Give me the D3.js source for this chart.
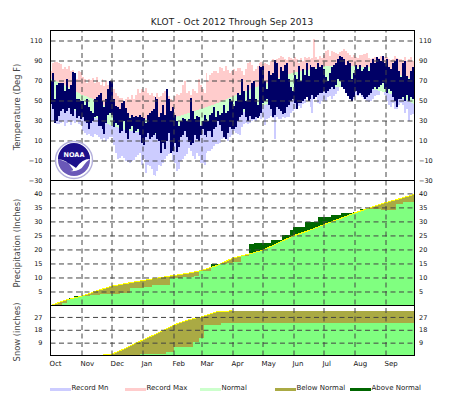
<!DOCTYPE html>
<html>
<head>
<meta charset="utf-8">
<script src="https://cdn.jsdelivr.net/npm/d3@7"></script>
<style>
  html, body { margin: 0; background: #fff; }
  svg { display: block; font-family: "DejaVu Sans", sans-serif; }
  .grid line { stroke: #444; stroke-dasharray: 5 3.5; }
  .grid path, .labels path, .labels line { display: none; }
  .labels text { font-family: "DejaVu Sans", sans-serif; font-size: 6.5px; fill: #111; }
  .title { font-size: 9px; fill: #222; letter-spacing: .1px; }
  .ylab { font-size: 8.4px; fill: #444; }
  .leg { font-size: 7px; fill: #222; }
</style>
</head>
<body>
<div id="chart"></div>
<script>
/* KLOT climate summary, Oct 2012 - Sep 2013 */

const months = ["Oct", "Nov", "Dec", "Jan", "Feb", "Mar", "Apr", "May", "Jun", "Jul", "Aug", "Sep"];
const monthDays = [0, 31, 61, 92, 123, 151, 182, 212, 243, 273, 304, 335];
const yearDays = 365;

const tempTicks = [-30, -10, 10, 30, 50, 70, 90, 110];
const precipTicks = [5, 10, 15, 20, 25, 30, 35, 40];
const snowTicks = [9, 18, 27];

const recMax = [
  80,88,89,89,88,87,82,84,82,85,80,81,78,72,80,79,
  74,72,68,72,71,73,68,74,69,66,72,65,70,66,68,
  70,62,58,55,53,53,50,52,54,52,56,52,56,62,58,62,
  60,63,58,56,58,55,52,58,54,55,58,60,52,55,52,50,
  55,57,56,58,66,70,58,60,56,62,60,58,72,66,
  62,58,78,70,76,78,80,80,78,84,83,80,85,81,78,80,
  82,80,83,83,80,76,82,88,89,86,80,82,85,88,89,
  87,88,87,86,90,92,91,92,93,95,94,92,91,94,93,92,
  94,92,88,93,90,94,93,94,92,93,112,94,92,95,93,
  96,100,101,95,100,99,98,97,99,100,102,100,98,96,94,96,
  94,93,96,96,97,97,98,93,92,93,94,91,93,95,92,94,
  94,92,91,92,95,93,92,92,90,94,90,92,94,90,88
];
const recMin = [
  30,30,28,27,27,28,30,25,28,30,26,30,28,30,27,26,
  20,18,16,17,15,14,17,16,14,12,10,13,10,12,14,
  14,6,-2,-8,-7,-5,-7,-10,-11,-12,-10,-9,-6,-4,-2,-14,
  -8,-22,-14,-15,-18,-24,-25,-20,-14,-15,-12,-8,-5,-3,-2,-10,
  -12,-20,-18,-10,-8,-5,-3,3,0,-5,-8,-2,-5,-12,
  -12,-14,-2,0,0,2,5,7,7,8,12,13,13,10,14,16,
  20,18,17,16,24,27,28,27,28,30,31,30,33,34,32,
  34,26,32,33,35,33,12,34,32,32,34,33,34,34,38,40,
  42,44,45,43,47,48,55,53,44,38,52,54,48,47,50,
  52,50,54,55,52,55,57,60,64,64,63,62,60,55,55,52,
  56,55,57,54,52,52,50,49,50,52,55,56,56,60,60,56,
  50,46,44,48,42,42,46,48,46,38,42,30,36,37,36
];
const obsHigh = [
  70,78,52,66,68,68,68,60,72,62,66,79,78,52,52,50,
  50,46,52,44,40,38,52,54,56,58,50,44,52,62,70,
  70,52,45,44,42,48,50,43,38,33,36,34,35,34,36,34,
  33,28,36,38,40,42,54,52,34,38,46,36,62,52,40,44,
  36,30,25,30,33,32,30,32,53,40,32,35,34,25,
  30,36,32,30,36,38,44,34,40,36,38,46,38,40,52,50,
  45,50,58,56,72,60,50,66,52,68,70,52,46,85,84,
  85,70,62,80,76,78,91,88,72,84,80,86,88,72,64,60,
  76,72,85,70,82,76,88,75,86,84,84,82,88,84,86,
  82,74,70,78,84,86,88,92,95,94,92,86,90,88,72,78,
  86,82,86,80,82,84,86,80,88,92,88,94,92,90,95,88,
  92,84,82,88,90,92,80,74,88,90,75,72,80,84,85
];
const obsLow = [
  47,42,28,30,35,40,42,38,40,43,37,35,42,33,35,32,
  34,30,28,22,28,30,34,35,25,25,22,17,28,36,38,
  36,24,28,26,18,20,30,18,12,22,25,18,20,22,16,8,
  6,14,18,12,14,16,18,12,10,-2,8,2,10,18,-2,0,
  8,-1,4,14,16,20,14,9,6,8,16,12,10,16,
  22,16,14,20,20,14,22,24,30,26,20,14,12,18,24,22,
  22,24,30,34,36,42,34,30,35,32,32,34,33,35,38,
  48,50,52,46,42,34,36,44,42,40,37,38,44,46,50,52,
  48,42,48,48,50,52,54,50,52,56,52,54,56,58,58,
  60,58,60,62,64,62,66,72,70,64,62,58,55,52,50,54,
  60,56,58,56,54,52,54,56,58,62,64,62,64,66,68,62,
  58,62,60,54,50,44,52,52,54,50,56,50,54,52,50
];

// normals, read at the start and middle of each month
const normalDays = [0,15,31,46,61,76,92,107,123,137,151,166,182,197,212,227,243,258,273,288,304,319,335,350,365];
const normalHigh = [72,65,56,50,40,34,32,30,33,37,42,47,54,60,66,72,78,81,84,85,84,83,79,75,70];
const normalLow = [50,44,37,32,25,20,18,16,18,21,26,29,35,40,45,50,56,60,63,64,64,62,58,53,46];
const normalPrecip = [0,1.9,3.3,5.2,6.9,7.9,8.9,9.8,10.7,11.5,12.5,14.2,16.9,18.2,19.7,22.2,24.9,26.7,28.8,30.8,33,34.8,36.7,38.2,39.8];
const normalSnow = [0,0,0,0,0.8,5.4,10.8,15.5,21.3,24.8,27.1,30.6,31.3,31.3,31.3,31.3,31.3,31.3,31.3,31.3,31.3,31.3,31.3,31.3,31.3];

// observed accumulations: day of change, value from that day on
const precipDays = [0,11,16,18,23,30,39,49,69,79,93,101,119,131,143,148,160,168,176,182,190,198,203,220,231,239,242,254,267,280,290,302,309,317,330,345,352];
const precipObs = [0,1,2,2.5,3.3,3.4,3.9,4.2,4.5,6.1,6.5,7.4,9.8,10,10.7,12.3,14.7,14.8,15,15.6,17.5,21.8,22.4,23.2,25,27,28,29.8,31.7,32.2,33,33.2,34.4,34.6,34,36.3,37];
const snowDays = [0,89,115,123,142,148,153,170];
const snowObs = [0,1.1,2.4,5.9,9.6,12.6,21.3,22.9];

const width = 464, height = 395;
const left = 50.5, right = 414.5;
const panels = { temp: [30.5, 180.5], precip: [180.5, 305.5], snow: [305.5, 355.5] };

const svg = d3.select("#chart").append("svg")
    .attr("width", width)
    .attr("height", height)
    .attr("viewBox", [0, 0, width, height]);

svg.append("clipPath").attr("id", "plot")
  .append("rect").attr("x", left).attr("y", 30).attr("width", right - left).attr("height", 326);

const x = d3.scaleLinear().domain([0, yearDays]).range([left, left + yearDays]);
const yTemp = d3.scaleLinear().domain([120, -30]).range(panels.temp);
const yPrecip = d3.scaleLinear().domain([44.6, 0]).range(panels.precip);
const ySnow = d3.scaleLinear().domain([35, 0]).range(panels.snow);

const marks = svg.append("g").attr("clip-path", "url(#plot)");

// evenly spaced daily series, last value held to the end of the year
const evenDays = arr => arr.map((_, i) => i * yearDays / arr.length).concat(yearDays);
const hold = arr => arr.concat(arr[arr.length - 1]);

function band(days, top, bottom, y, fill, curve) {
  const area = d3.area()
      .curve(curve)
      .x((_, i) => x(days[i]))
      .y1((_, i) => y(top[i]))
      .y0((_, i) => typeof bottom === "number" ? y(bottom) : y(bottom[i]));
  return marks.append("path")
      .datum(days)
      .attr("d", area)
      .attr("fill", fill)
      .attr("shape-rendering", "crispEdges");
}

// Temperature panel, painted back to front
const maxDays = evenDays(recMax), minDays = evenDays(recMin), obsDays = evenDays(obsHigh);
band(maxDays, hold(recMax), -30, yTemp, "#ffcccc", d3.curveStepAfter);
band(normalDays, normalHigh, -30, yTemp, "#ccccff", d3.curveLinear);
band(minDays, hold(recMin), -30, yTemp, "#ffffff", d3.curveStepAfter);
band(normalDays, normalHigh, normalLow, yTemp, "#ccffcc", d3.curveLinear);
band(obsDays, hold(obsHigh), hold(obsLow), yTemp, "#000066", d3.curveStepAfter);

// Accumulation panels: above normal, below normal, then the green under both
function accumulation(id, days, obs, normal, y) {
  const steps = days.concat(yearDays), obsHeld = hold(obs);
  band(steps, obsHeld, 0, y, "#006600", d3.curveStepAfter);
  band(normalDays, normal, 0, y, "#aaaa44", d3.curveLinear);

  const under = d3.area()
      .x((_, i) => x(normalDays[i]))
      .y1((_, i) => y(normal[i]))
      .y0(y(0));
  svg.append("clipPath").attr("id", id)
    .append("path").datum(normalDays).attr("d", under);
  band(steps, obsHeld, 0, y, "#80ff80", d3.curveStepAfter).attr("clip-path", `url(#${id})`);

  // yellow normal line only where the normal is still rising
  marks.append("path")
      .datum(normalDays)
      .attr("d", d3.line()
        .defined((_, i) => normal[i] !== normal[i + 1] || normal[i] !== normal[i - 1])
        .x((_, i) => x(normalDays[i]))
        .y((_, i) => y(normal[i])))
      .attr("fill", "none")
      .attr("stroke", "#ffff00")
      .attr("stroke-width", 1)
      .attr("shape-rendering", "crispEdges");
}
accumulation("under-precip", precipDays, precipObs, normalPrecip, yPrecip);
accumulation("under-snow", snowDays, snowObs, normalSnow, ySnow);

// dashed grid on top of the marks
svg.append("g")
    .attr("class", "grid")
    .attr("transform", `translate(0,${panels.snow[1]})`)
    .call(d3.axisBottom(x).tickValues(monthDays.slice(1)).tickSize(-325).tickFormat(""));

function yAxis(y, ticks, gridTicks) {
  svg.append("g")
      .attr("class", "grid")
      .attr("transform", `translate(${left},0)`)
      .call(d3.axisLeft(y).tickValues(gridTicks).tickSize(left - right).tickFormat(""));
  svg.append("g")
      .attr("class", "labels")
      .attr("transform", `translate(${left},0)`)
      .call(d3.axisLeft(y).tickValues(ticks).tickSize(0).tickPadding(8));
  svg.append("g")
      .attr("class", "labels")
      .attr("transform", `translate(${right},0)`)
      .call(d3.axisRight(y).tickValues(ticks).tickSize(0).tickPadding(4.5));
}
yAxis(yTemp, tempTicks, tempTicks.slice(1));
yAxis(yPrecip, precipTicks, precipTicks);
yAxis(ySnow, snowTicks, snowTicks);

// frame
[panels.temp[0], panels.temp[1], panels.precip[1], panels.snow[1]].forEach(py => {
  svg.append("line").attr("x1", left).attr("x2", right).attr("y1", py).attr("y2", py).attr("stroke", "#000");
});
[left, right].forEach(px => {
  svg.append("line").attr("x1", px).attr("x2", px).attr("y1", 30).attr("y2", 356).attr("stroke", "#000");
});

// month labels
const monthAxis = svg.append("g")
    .attr("class", "labels")
    .attr("transform", `translate(-1.5,${panels.snow[1]})`)
    .call(d3.axisBottom(x).tickValues(monthDays).tickSize(0).tickPadding(6)
      .tickFormat((_, i) => months[i]));
monthAxis.selectAll("text").attr("text-anchor", "start").style("font-size", "7px");

// titles
svg.append("text").attr("class", "title").attr("x", 232).attr("y", 25).attr("text-anchor", "middle")
    .text("KLOT - Oct 2012 Through Sep 2013");
[["Temperature (Deg F)", 107], ["Precipitation (Inches)", 243], ["Snow (inches)", 332]].forEach(([label, cy]) => {
  svg.append("text").attr("class", "ylab").attr("text-anchor", "middle")
      .attr("transform", `translate(19.5,${cy}) rotate(-90)`)
      .text(label);
});

// legend
const legendItems = ["Record Mn", "Record Max", "Normal", "Below Normal", "Above Normal"];
const legendColors = ["#ccccff", "#ffcccc", "#ccffcc", "#aaaa44", "#006600"];
const legendX = d3.scalePoint().domain(legendItems).range([50, 350]);
const legend = svg.append("g").selectAll("g").data(legendItems).join("g")
    .attr("transform", d => `translate(${legendX(d)},0)`);
legend.append("rect").attr("y", 388).attr("width", 21).attr("height", 3)
    .attr("fill", (_, i) => legendColors[i]);
legend.append("text").attr("class", "leg").attr("x", 21.5).attr("y", 390).text(d => d);

// NOAA logo
const logo = svg.append("g").attr("transform", "translate(74,160)");
logo.append("circle").attr("r", 18.5).attr("fill", "#fff").attr("stroke", "#b4b0dc").attr("stroke-width", 1.4);
logo.append("circle").attr("r", 16).attr("fill", "#6a58b8");
logo.append("path").attr("d", "M-16,-1 A16,16 0 0 1 16,-1 Q8,-1 2,8 Q-6,2 -16,-1Z").attr("fill", "#1c0f8a");
logo.append("path").attr("d", "M-16,-1 Q-6,0 -2,8 Q1,11 -4,11 Q6,12 10,5 Q13,1 16,-1 Q8,-1 2,8 Q-6,2 -16,-1Z").attr("fill", "#fff");
logo.append("text").attr("y", -3.5).attr("text-anchor", "middle")
    .attr("font-size", "6.5px").attr("font-weight", "bold").attr("fill", "#fff").text("NOAA");
</script>
</body>
</html>
